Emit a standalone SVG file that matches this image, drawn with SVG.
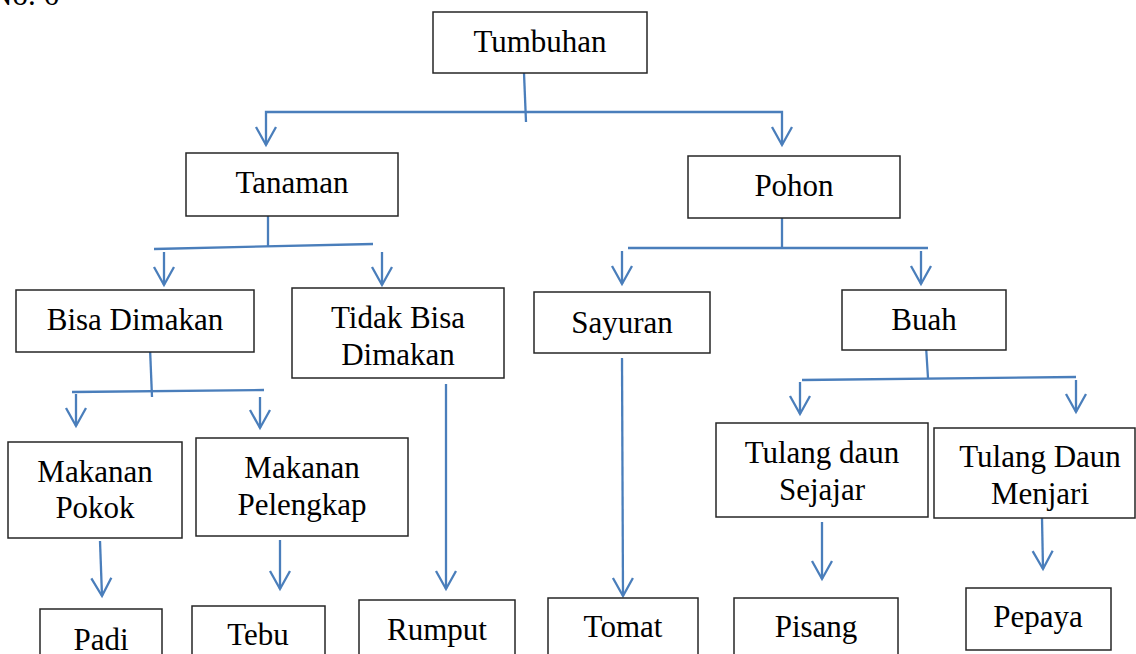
<svg xmlns="http://www.w3.org/2000/svg" width="1136" height="654" viewBox="0 0 1136 654">
<defs>
<style>
.box{fill:#fff;stroke:#262626;stroke-width:1.5}
.t{font-family:"Liberation Serif","Times New Roman",serif;font-size:31px;fill:#000;text-anchor:middle}
.c{fill:none;stroke:#4A7EBB;stroke-width:2.3}
.a{marker-end:url(#ah)}
</style>
<marker id="ah" markerUnits="userSpaceOnUse" markerWidth="40" markerHeight="40" viewBox="-20 -20 40 40" refX="0" refY="0" orient="auto" overflow="visible">
<path d="M-18,-10 L0,0 L-18,10" fill="none" stroke="#4A7EBB" stroke-width="2.3"/>
</marker>
</defs>
<rect width="1136" height="654" fill="#fff"/>
<text class="t" x="-10" y="5" style="text-anchor:start">No. 6</text>

<g id="connectors">
<path class="c" d="M524,73 L526,122"/>
<path class="c a" d="M525,112 L266,112 L266,145"/>
<path class="c a" d="M525,112 L782,112 L782,145"/>
<path class="c" d="M268,215 L268,246"/>
<path class="c" d="M154,249 L373,244"/>
<path class="c a" d="M164,252 L164,285"/>
<path class="c a" d="M382,252 L382,285"/>
<path class="c" d="M782,211 L782,248"/>
<path class="c" d="M628,248 L928,248"/>
<path class="c a" d="M622,251 L622,284"/>
<path class="c a" d="M921,251 L921,284"/>
<path class="c" d="M150,348 L152,397"/>
<path class="c" d="M72,392 L264,390"/>
<path class="c a" d="M76,394 L76,426"/>
<path class="c a" d="M260,397 L260,428"/>
<path class="c a" d="M446,384 L446,589"/>
<path class="c a" d="M622,358 L623,596"/>
<path class="c" d="M926,346 L928,378"/>
<path class="c" d="M802,380 L1076,377"/>
<path class="c a" d="M800,382 L800,414"/>
<path class="c a" d="M1076,380 L1076,412"/>
<path class="c a" d="M100,541 L102,596"/>
<path class="c a" d="M280,540 L280,589"/>
<path class="c a" d="M822,522 L822,579"/>
<path class="c a" d="M1042,518 L1043,569"/>
</g>

<g id="tumbuhan"><rect class="box" x="433" y="12" width="214" height="61"/><text class="t" x="540" y="52">Tumbuhan</text></g>
<g id="tanaman"><rect class="box" x="186" y="153" width="212" height="63"/><text class="t" x="292" y="193">Tanaman</text></g>
<g id="pohon"><rect class="box" x="688" y="156" width="212" height="62"/><text class="t" x="794" y="196">Pohon</text></g>
<g id="bisa-dimakan"><rect class="box" x="16" y="290" width="238" height="62"/><text class="t" x="135" y="330">Bisa Dimakan</text></g>
<g id="tidak-bisa-dimakan"><rect class="box" x="292" y="288" width="212" height="90"/><text class="t" x="398" y="328">Tidak Bisa</text><text class="t" x="398" y="365">Dimakan</text></g>
<g id="sayuran"><rect class="box" x="534" y="292" width="176" height="61"/><text class="t" x="622" y="333">Sayuran</text></g>
<g id="buah"><rect class="box" x="842" y="290" width="164" height="60"/><text class="t" x="924" y="330">Buah</text></g>
<g id="makanan-pokok"><rect class="box" x="8" y="442" width="174" height="96"/><text class="t" x="95" y="482">Makanan</text><text class="t" x="95" y="518">Pokok</text></g>
<g id="makanan-pelengkap"><rect class="box" x="196" y="438" width="212" height="98"/><text class="t" x="302" y="478">Makanan</text><text class="t" x="302" y="515">Pelengkap</text></g>
<g id="tulang-daun-sejajar"><rect class="box" x="716" y="423" width="212" height="94"/><text class="t" x="822" y="463">Tulang daun</text><text class="t" x="822" y="500">Sejajar</text></g>
<g id="tulang-daun-menjari"><rect class="box" x="934" y="428" width="201" height="90"/><text class="t" x="1040" y="467">Tulang Daun</text><text class="t" x="1040" y="504">Menjari</text></g>
<g id="padi"><rect class="box" x="40" y="609" width="122" height="70"/><text class="t" x="101" y="650">Padi</text></g>
<g id="tebu"><rect class="box" x="192" y="606" width="133" height="70"/><text class="t" x="258" y="645">Tebu</text></g>
<g id="rumput"><rect class="box" x="359" y="600" width="156" height="70"/><text class="t" x="437" y="640">Rumput</text></g>
<g id="tomat"><rect class="box" x="548" y="598" width="150" height="70"/><text class="t" x="623" y="637">Tomat</text></g>
<g id="pisang"><rect class="box" x="734" y="598" width="164" height="70"/><text class="t" x="816" y="637">Pisang</text></g>
<g id="pepaya"><rect class="box" x="966" y="588" width="145" height="62"/><text class="t" x="1038" y="627">Pepaya</text></g>
</svg>
